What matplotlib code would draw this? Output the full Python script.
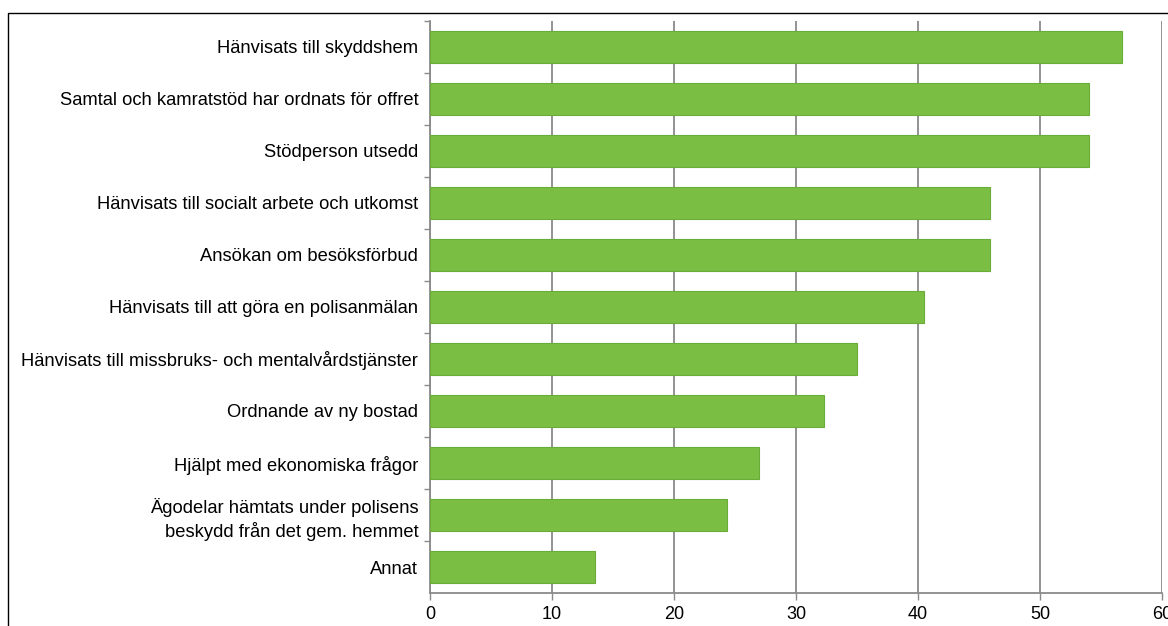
import matplotlib.pyplot as plt
from matplotlib.patches import Rectangle

plt.rcParams['font.family'] = ['Liberation Sans', 'DejaVu Sans']

categories = [
    "Hänvisats till skyddshem",
    "Samtal och kamratstöd har ordnats för offret",
    "Stödperson utsedd",
    "Hänvisats till socialt arbete och utkomst",
    "Ansökan om besöksförbud",
    "Hänvisats till att göra en polisanmälan",
    "Hänvisats till missbruks- och mentalvårdstjänster",
    "Ordnande av ny bostad",
    "Hjälpt med ekonomiska frågor",
    "Ägodelar hämtats under polisens\nbeskydd från det gem. hemmet",
    "Annat",
]
values = [56.7, 54.0, 54.0, 45.9, 45.9, 40.5, 35.0, 32.3, 27.0, 24.3, 13.5]
xticks = [0, 10, 20, 30, 40, 50, 60]

grey = "#8a8a8a"

fig = plt.figure(figsize=(11.68, 6.26), dpi=100)
ax = fig.add_axes([0.3682, 0.0527, 0.6267, 0.9138])

n = len(categories)
pos = list(range(n))[::-1]
ax.barh(pos, values, height=0.62, color="#7abf43", edgecolor="#6aac38",
        linewidth=0.8, zorder=3)

ax.set_xlim(0, 60)
ax.set_ylim(-0.5, n - 0.5)
ax.set_xticks(xticks)
ax.set_xticklabels([str(t) for t in xticks], fontsize=13)
ax.set_yticks(pos)
ax.set_yticklabels(categories, fontsize=13.2, linespacing=1.3)
ax.set_yticks([p + 0.5 for p in range(n)], minor=True)
ax.tick_params(axis="y", which="major", length=0, pad=8.5)
ax.tick_params(axis="y", which="minor", length=4, width=1, color=grey,
               direction="out")
ax.tick_params(axis="x", length=5, width=1, color=grey, pad=4)

ax.grid(axis="x", color=grey, linewidth=1.3, zorder=0)
for side in ["top", "right"]:
    ax.spines[side].set_visible(False)
for side in ["left", "bottom"]:
    ax.spines[side].set_color(grey)
    ax.spines[side].set_linewidth(1.3)

# outer frame of the original image
fig.add_artist(Rectangle((8 / 1168, -0.1), 1.2, 1.1 - 13 / 626,
                         transform=fig.transFigure, fill=False,
                         edgecolor="black", linewidth=1.0, clip_on=False))

fig.savefig("out.png", dpi=100)
